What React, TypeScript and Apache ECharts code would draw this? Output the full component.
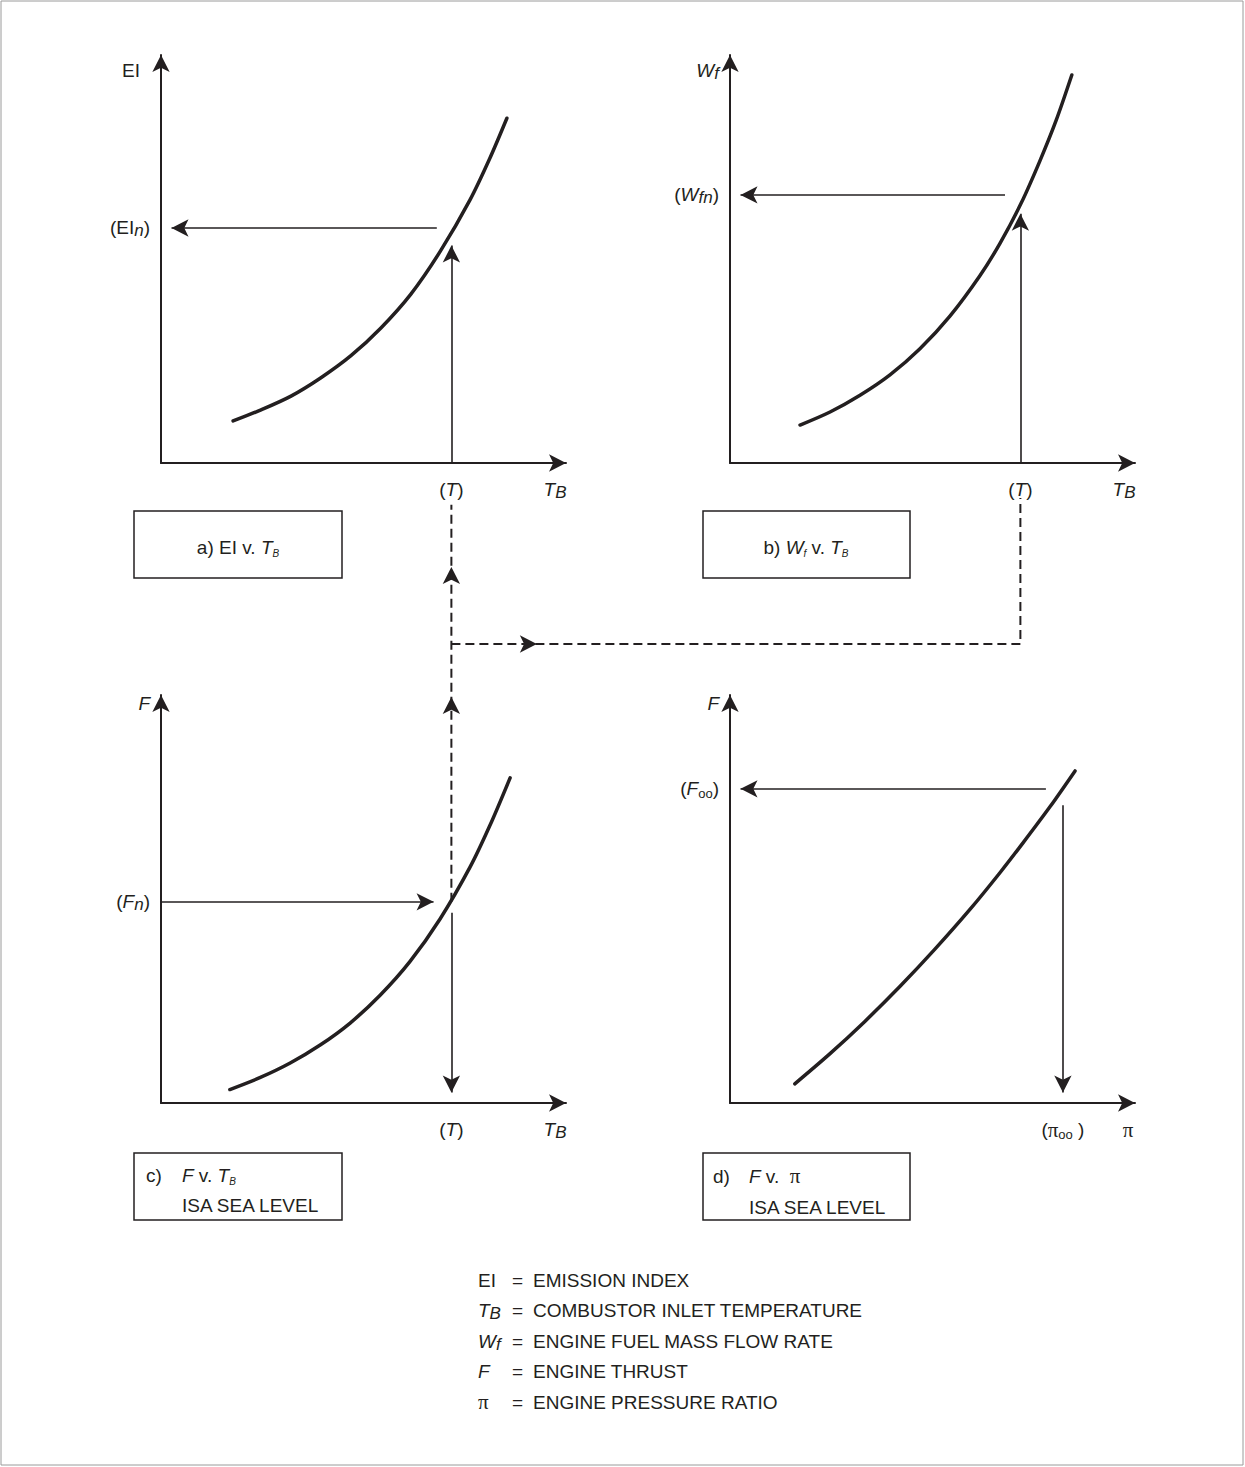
import React, { useEffect, useRef } from 'react';
import * as echarts from 'echarts';

const INK = '#231f20';
const FONT = 'Liberation Sans, Arial, Helvetica, sans-serif';
const SERIF = 'Liberation Serif, Times New Roman, serif';

// ---------------- data (each panel: 0..100 on both axes) ----------------
const T_VALUE = 71.7; // (T) on the TB axes of a, b, c

// a) EI v. TB
const EI_CURVE = [[17.8, 10.3], [24.4, 12.9], [32.1, 16.4], [39.5, 20.9], [46.9, 26.3], [54.3, 33.1], [61.7, 41.4], [68.9, 51.8], [76.3, 64.5], [81.2, 74.7], [85.4, 84.5]];
const EI_N = 57.6;
const EI_ARROW_START_X = 68.1;
const EI_VERTICAL_TIP = 55.4;

// b) Wf v. TB
const WF_CURVE = [[17.3, 9.3], [24.7, 12.5], [32.1, 16.6], [39.5, 21.6], [46.9, 28.0], [54.3, 36.0], [61.7, 45.9], [66.7, 53.9], [71.9, 63.7], [76.5, 74.0], [80.5, 83.9], [84.4, 95.1]];
const WF_N = 65.7;
const WF_ARROW_START_X = 67.9;
const WF_VERTICAL_TIP = 63.2;

// c) F v. TB
const F_CURVE = [[17.0, 3.3], [24.4, 6.2], [31.9, 9.8], [39.3, 14.2], [46.7, 19.6], [54.1, 26.4], [61.5, 34.7], [68.9, 45.1], [76.3, 57.8], [81.2, 68.0], [86.2, 79.7]];
const F_N = 49.3;
const F_ARROW_TIP_X = 69.4;
const F_VERTICAL_START = 46.6;

// d) F v. pi
const FPI_CURVE = [[16.0, 4.7], [24.7, 12.1], [33.3, 20.0], [42.0, 28.6], [50.6, 37.7], [59.3, 47.5], [66.7, 56.5], [72.3, 63.7], [79.0, 72.6], [85.2, 81.4]];
const F_OO = 77.0;
const F_OO_ARROW_START_X = 78.0;
const PI_OO = 82.2;
const PI_VERTICAL_START = 73.0;

// dashed connector (overlay grid, same units and origin as panel c)
const DASH_LEFT_TOP = 146.6;
const DASH_JOIN = 112.5;
const DASH_RIGHT_TOP = 148.3;
const DASH_ARROWS: [number, number, string][] = [[T_VALUE, 99.5, 'up'], [T_VALUE, 131.4, 'up'], [92.8, DASH_JOIN, 'right']];

// label positions
const TB_LABEL_AT = 97.3;
const PI_LABEL_AT = 98.3;
const Y_NAME_TOP = 96.3;
const Y_NAME_BOTTOM = 98.0;

// legend
const LEGEND_SYMBOLS = ['{n|EI}', '{it|T}{sub|B}', '{it|W}{sub|f}', '{it|F}', '{pi|π}'];
const LEGEND_TEXTS = ['EMISSION INDEX', 'COMBUSTOR INLET TEMPERATURE', 'ENGINE FUEL MASS FLOW RATE', 'ENGINE THRUST', 'ENGINE PRESSURE RATIO'];

// ---------------- layout ----------------
const W = 1245;
const H = 1467;
const PLOT_W = 405;
const PLOT_H = 408;
const COL_LEFT = [161, 730];
const ROW_AXIS = [463, 1103];
const X_PX = PLOT_W / 100;
const Y_PX = PLOT_H / 100;
const COL_OFFSET = (COL_LEFT[1] - COL_LEFT[0]) / X_PX;
const ARROW_SIZE = [13, 17];
const ARROW_HALF = ARROW_SIZE[1] / 2;

function makeRich(size: number, colorKey: string, subShift: number) {
  const L = size + 4;
  const c = { [colorKey]: INK };
  return {
    n: { fontFamily: FONT, fontSize: size, lineHeight: L, verticalAlign: 'middle', ...c },
    nm: { fontFamily: FONT, fontSize: size, lineHeight: L, verticalAlign: 'middle', padding: [0, 10, 0, 0], ...c },
    it: { fontFamily: FONT, fontSize: size, fontStyle: 'italic', lineHeight: L, verticalAlign: 'middle', ...c },
    sub: { fontFamily: FONT, fontSize: size - 2, fontStyle: 'italic', lineHeight: L - 2 * subShift, verticalAlign: 'bottom', ...c },
    subSmall: { fontFamily: FONT, fontSize: size - 6, lineHeight: L - 2 * subShift - 2, verticalAlign: 'bottom', ...c },
    tiny: { fontFamily: FONT, fontSize: Math.round(size * 0.55), fontStyle: 'italic', lineHeight: L - 8, verticalAlign: 'bottom', ...c },
    pi: { fontFamily: SERIF, fontSize: size + 2, lineHeight: L, verticalAlign: 'middle', ...c },
  };
}

function shorten(p0: number[], p1: number[]) {
  const dx = (p1[0] - p0[0]) * X_PX;
  const dy = (p1[1] - p0[1]) * Y_PX;
  const len = Math.hypot(dx, dy);
  const k = (len - ARROW_HALF) / len;
  return [p0[0] + (p1[0] - p0[0]) * k, p0[1] + (p1[1] - p0[1]) * k];
}

function arrow(p0: number[], tip: number[]) {
  return [{ coord: p0 }, { coord: shorten(p0, tip) }];
}

function pick(labels: [number, string][]) {
  return (v: number) => {
    let best = labels[0];
    for (const l of labels) if (Math.abs(l[0] - v) < Math.abs(best[0] - v)) best = l;
    return best[1];
  };
}

const AXIS_RICH = makeRich(19, 'color', 3.5);

function axisCommon(i: number, labels: [number, string][], margin: number) {
  return {
    type: 'value', gridIndex: i, min: 0, max: 100,
    axisLine: { show: true, onZero: false, symbol: ['none', 'arrow'], symbolSize: ARROW_SIZE, lineStyle: { color: INK, width: 2 } },
    axisTick: { show: false }, splitLine: { show: false },
    axisLabel: {
      show: true, customValues: labels.map((l) => l[0]), formatter: pick(labels), margin,
      rich: AXIS_RICH, color: INK, fontFamily: FONT, fontSize: 19, lineHeight: 23,
    },
  };
}

const MARK_LINE_BASE = {
  silent: true, symbol: ['none', 'arrow'], symbolSize: ARROW_SIZE, label: { show: false },
  lineStyle: { type: 'solid', color: INK, width: 1.6 }, emphasis: { disabled: true },
};

function curve(i: number, data: number[][], arrows: any[]) {
  return {
    type: 'line', xAxisIndex: i, yAxisIndex: i, data, smooth: 0.3, showSymbol: false, silent: true,
    lineStyle: { color: INK, width: 3.5, cap: 'round' },
    markLine: { ...MARK_LINE_BASE, data: arrows },
  };
}

const App: React.FC = () => {
  const ref = useRef<HTMLDivElement>(null);
  useEffect(() => {
    if (!ref.current) return;
    const chart = echarts.init(ref.current, undefined, { renderer: 'svg', width: W, height: H });

    const grids: any[] = [];
    for (let r = 0; r < 2; r++) for (let c = 0; c < 2; c++) {
      grids.push({ left: COL_LEFT[c], top: ROW_AXIS[r] - PLOT_H, width: PLOT_W, height: PLOT_H, containLabel: false, outerBoundsMode: 'none' });
    }
    // overlay grid for the dashed connector: same origin & scale as panel c, spanning all panels
    const overlayW = COL_LEFT[1] + PLOT_W - COL_LEFT[0];
    const overlayH = ROW_AXIS[1] - (ROW_AXIS[0] - PLOT_H);
    grids.push({ left: COL_LEFT[0], top: ROW_AXIS[1] - overlayH, width: overlayW, height: overlayH, containLabel: false, outerBoundsMode: 'none' });

    const tLabel: [number, string] = [T_VALUE, '{n|(}{it|T}{n|)}'];
    const tbLabel: [number, string] = [TB_LABEL_AT, '{it|T}{sub|B}'];

    const xAxes: any[] = [
      axisCommon(0, [tLabel, tbLabel], 15),
      axisCommon(1, [tLabel, tbLabel], 15),
      axisCommon(2, [tLabel, tbLabel], 15),
      axisCommon(3, [[PI_OO, '{n|(}{pi|π}{subSmall|oo}{n| )}'], [PI_LABEL_AT, '{pi|π}']], 15),
      { type: 'value', gridIndex: 4, min: 0, max: overlayW / X_PX, show: false },
    ];
    const yAxes: any[] = [
      axisCommon(0, [[EI_N, '{n|(EI}{sub|n}{n|)}'], [Y_NAME_TOP, '{nm|EI}']], 11),
      axisCommon(1, [[WF_N, '{n|(}{it|W}{sub|fn}{n|)}'], [Y_NAME_TOP, '{it|W}{sub|f}']], 11),
      axisCommon(2, [[F_N, '{n|(}{it|F}{sub|n}{n|)}'], [Y_NAME_BOTTOM, '{it|F}']], 11),
      axisCommon(3, [[F_OO, '{n|(}{it|F}{subSmall|oo}{n|)}'], [Y_NAME_BOTTOM, '{it|F}']], 11),
      { type: 'value', gridIndex: 4, min: 0, max: overlayH / Y_PX, show: false },
    ];

    const RIGHT_T = T_VALUE + COL_OFFSET;

    const series: any[] = [
      curve(0, EI_CURVE, [
        arrow([EI_ARROW_START_X, EI_N], [0.5, EI_N]),
        arrow([T_VALUE, 0], [T_VALUE, EI_VERTICAL_TIP]),
      ]),
      curve(1, WF_CURVE, [
        arrow([WF_ARROW_START_X, WF_N], [0.5, WF_N]),
        arrow([T_VALUE, 0], [T_VALUE, WF_VERTICAL_TIP]),
      ]),
      curve(2, F_CURVE, [
        arrow([0, F_N], [F_ARROW_TIP_X, F_N]),
        arrow([T_VALUE, F_VERTICAL_START], [T_VALUE, 0.5]),
      ]),
      curve(3, FPI_CURVE, [
        arrow([F_OO_ARROW_START_X, F_OO], [0.5, F_OO]),
        arrow([PI_OO, PI_VERTICAL_START], [PI_OO, 0.5]),
      ]),
      {
        type: 'line', xAxisIndex: 4, yAxisIndex: 4, showSymbol: false, silent: true,
        data: [[T_VALUE, F_N], [T_VALUE, DASH_LEFT_TOP]],
        lineStyle: { color: INK, width: 2, type: [9, 5] },
      },
      {
        type: 'line', xAxisIndex: 4, yAxisIndex: 4, showSymbol: false, silent: true,
        data: [[T_VALUE, DASH_JOIN], [RIGHT_T, DASH_JOIN], [RIGHT_T, DASH_RIGHT_TOP]],
        lineStyle: { color: INK, width: 2, type: [9, 5] },
      },
      {
        type: 'scatter', xAxisIndex: 4, yAxisIndex: 4, silent: true,
        symbol: 'arrow', symbolSize: ARROW_SIZE, itemStyle: { color: INK, opacity: 1 },
        data: DASH_ARROWS.map((a) => ({ value: [a[0], a[1]], symbolRotate: a[2] === 'right' ? -90 : 0 })),
      },
    ];

    const boxRich = makeRich(19, 'fill', 3.5);
    const legendRich = makeRich(19, 'fill', 6);
    const txt = (x: number, y: number, text: string, rich: any, align = 'left', size = 19) => ({
      type: 'text', x, y, silent: true,
      style: { text, rich, fill: INK, fontFamily: FONT, fontSize: size, align, verticalAlign: 'middle' },
    });
    const box = (x: number, y: number, w: number, h: number) => ({
      type: 'rect', silent: true, shape: { x, y, width: w, height: h },
      style: { fill: 'none', stroke: INK, lineWidth: 1.5 },
    });

    const graphic: any[] = [
      { type: 'rect', silent: true, shape: { x: 1, y: 1, width: W - 3, height: H - 3 }, style: { fill: 'none', stroke: '#9a9a9a', lineWidth: 1 } },
      box(134, 511, 208, 67),
      box(703, 511, 207, 67),
      box(134, 1153, 208, 67),
      box(703, 1153, 207, 67),
      txt(238, 547, '{n|a) EI v. }{it|T}{tiny|B}', boxRich, 'center'),
      txt(806, 547, '{n|b) }{it|W}{tiny|f}{n| v. }{it|T}{tiny|B}', boxRich, 'center'),
      txt(146, 1175, '{n|c)}', boxRich),
      txt(182, 1175, '{it|F}{n| v. }{it|T}{tiny|B}', boxRich),
      txt(182, 1205, '{n|ISA SEA LEVEL}', boxRich),
      txt(713, 1176, '{n|d)}', boxRich),
      txt(749, 1176, '{it|F}{n| v.  }{pi|π}', boxRich),
      txt(749, 1207, '{n|ISA SEA LEVEL}', boxRich),
    ];
    LEGEND_SYMBOLS.forEach((s, i) => {
      const y = 1280 + i * 30.5;
      graphic.push(txt(478, y, s, legendRich, 'left', 19));
      graphic.push(txt(512, y, '{n|=}', legendRich, 'left', 19));
      graphic.push(txt(533, y, '{n|' + LEGEND_TEXTS[i] + '}', legendRich, 'left', 19));
    });

    chart.setOption({
      animation: false,
      backgroundColor: '#ffffff',
      grid: grids,
      xAxis: xAxes,
      yAxis: yAxes,
      series,
      graphic,
    });
    return () => chart.dispose();
  }, []);
  return <div ref={ref} style={{ position: 'absolute', left: 0, top: 0, width: W, height: H, background: '#fff' }} />;
};

export default App;
